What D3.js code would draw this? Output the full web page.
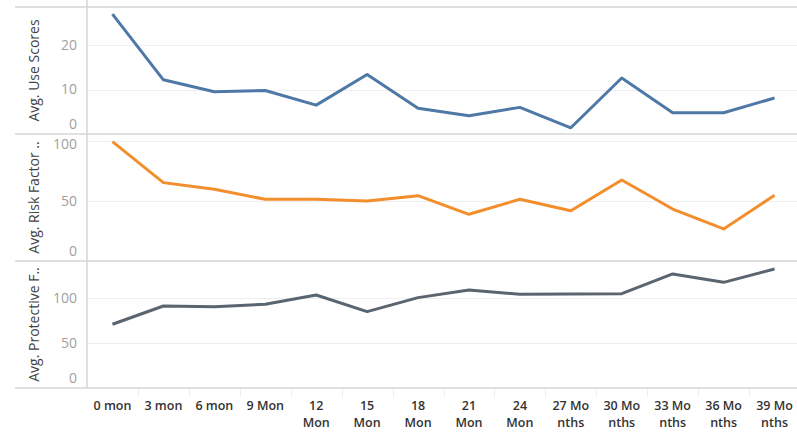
<!DOCTYPE html>
<html>
<head>
<meta charset="utf-8">
<script src="https://cdn.jsdelivr.net/npm/d3@7"></script>
<style>
  body { margin: 0; background: #fff; }
  text { font-family: "Open Sans", "Noto Sans", sans-serif; }
</style>
</head>
<body>
<div id="chart"></div>
<script>
// categories (two-line header labels)
const months = [
    ["0 mon"], ["3 mon"], ["6 mon"], ["9 Mon"], ["12", "Mon"], ["15", "Mon"], ["18", "Mon"],
    ["21", "Mon"], ["24", "Mon"], ["27 Mo", "nths"], ["30 Mo", "nths"], ["33 Mo", "nths"],
    ["36 Mo", "nths"], ["39 Mo", "nths"]
];

const useScores = [27.0, 12.2, 9.5, 9.8, 6.5, 13.4, 5.8, 4.1, 6.0, 1.4, 12.6, 4.8, 4.8, 8.1];
const riskFactor = [99.5, 65.3, 59.7, 51.4, 51.4, 50.0, 54.4, 38.9, 51.4, 41.9, 67.5, 43.3, 26.7, 54.7];
const protective = [70.8, 91.1, 90.4, 93.0, 103.3, 84.8, 100.4, 108.9, 104.1, 104.4, 104.8, 126.7, 117.4, 132.2];

const panels = [
    { title: "Avg. Use Scores", values: useScores, ticks: [0, 10, 20], max: 28.6, color: "#4e79a7" },
    { title: "Avg. Risk Factor ..", values: riskFactor, ticks: [0, 50, 100], max: 105.8, color: "#f28e2b" },
    { title: "Avg. Protective F..", values: protective, ticks: [0, 50, 100], max: 141.1, color: "#5a6570" }
];

const width = 797, height = 432;
const left = 87, right = 800;
const top0 = 7, panelH = 127;
const labels = months.map(m => m.join(" "));

const svg = d3.select("#chart").append("svg")
    .attr("width", width)
    .attr("height", height);

const x = d3.scaleBand().domain(labels).range([left, right]);

panels.forEach((p, i) => {
    const pTop = top0 + i * panelH;
    const pBot = pTop + panelH;
    const y = d3.scaleLinear().domain([0, p.max]).range([pBot, pTop]);
    const g = svg.append("g");

    // gridlines
    g.selectAll(".grid").data(p.ticks.filter(t => t > 0)).enter().append("line")
        .attr("x1", left).attr("x2", width)
        .attr("y1", d => Math.round(y(d)) + 0.5).attr("y2", d => Math.round(y(d)) + 0.5)
        .attr("stroke", "#eeeeee").attr("stroke-width", 1);

    // tick labels
    g.selectAll(".tl").data(p.ticks).enter().append("text")
        .attr("x", 77)
        .attr("y", d => Math.max(pTop + 10, Math.min(pBot - 10, y(d))))
        .attr("dy", "0.35em")
        .attr("text-anchor", "end")
        .attr("font-size", 14)
        .attr("fill", "#a0a0a0")
        .text(d => d);

    // axis title
    g.append("text")
        .attr("transform", `translate(34,${(pTop + pBot) / 2}) rotate(-90)`)
        .attr("text-anchor", "middle")
        .attr("dy", "0.35em")
        .attr("font-size", 14)
        .attr("fill", "#444")
        .text(p.title);

    // the line
    const line = d3.line()
        .x((d, j) => x(labels[j]) + x.bandwidth() / 2)
        .y(d => y(d));
    g.append("path")
        .datum(p.values)
        .attr("fill", "none")
        .attr("stroke", p.color)
        .attr("stroke-width", 3)
        .attr("stroke-linejoin", "round")
        .attr("d", line);
});

// panel borders
d3.range(panels.length + 1).forEach(i => {
    const yy = top0 + i * panelH;
    svg.append("line")
        .attr("x1", 15).attr("x2", width)
        .attr("y1", yy).attr("y2", yy)
        .attr("stroke", "#d6d6d6").attr("stroke-width", 1.5);
});
svg.append("line")
    .attr("x1", left).attr("x2", left)
    .attr("y1", 0).attr("y2", top0 + panels.length * panelH)
    .attr("stroke", "#d6d6d6").attr("stroke-width", 1.5);

// header separators
const bottom = top0 + panels.length * panelH;
svg.selectAll(".sep").data(labels.slice(1)).enter().append("line")
    .attr("x1", d => Math.round(x(d)) + 0.5).attr("x2", d => Math.round(x(d)) + 0.5)
    .attr("y1", bottom + 1).attr("y2", bottom + 9)
    .attr("stroke", "#eeeeee");

// x labels, one text per line
months.forEach((m, j) => {
    svg.selectAll(null).data(m).enter().append("text")
        .attr("x", x(labels[j]) + x.bandwidth() / 2)
        .attr("y", (d, k) => 410 + k * 17)
        .attr("text-anchor", "middle")
        .attr("font-size", 12.5)
        .attr("font-weight", 600)
        .attr("fill", "#333")
        .text(d => d);
});
</script>
</body>
</html>
